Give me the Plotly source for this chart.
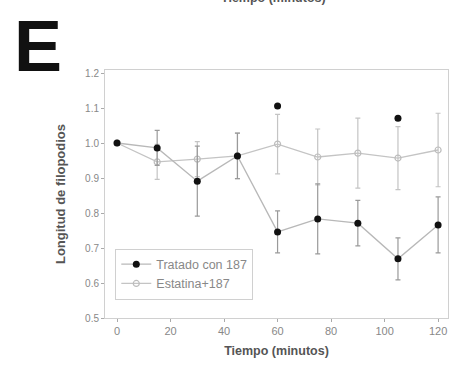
import plotly.graph_objects as go

time = [0, 15, 30, 45, 60, 75, 90, 105, 120]
tratado = [1.0, 0.986, 0.891, 0.963, 0.746, 0.783, 0.771, 0.669, 0.766]
tratado_err = [0.0, 0.05, 0.10, 0.065, 0.06, 0.10, 0.065, 0.06, 0.08]
estatina = [1.0, 0.946, 0.954, 0.963, 0.997, 0.96, 0.971, 0.957, 0.98]
estatina_err = [0.0, 0.05, 0.05, 0.065, 0.085, 0.08, 0.10, 0.09, 0.105]
sig_time = [60, 105]
sig_value = [1.106, 1.071]
x_ticks = [0, 20, 40, 60, 80, 100, 120]
y_ticks = [0.5, 0.6, 0.7, 0.8, 0.9, 1.0, 1.1, 1.2]

fig = go.Figure()
fig.add_trace(go.Scatter(
    x=time, y=estatina, name="Estatina+187", mode="lines+markers",
    line=dict(color="#c4c4c4", width=1.3),
    marker=dict(symbol="circle-open", size=6, color="#bdbdbd", line=dict(width=1.2)),
    error_y=dict(type="data", array=estatina_err, color="#c4c4c4", thickness=1.2, width=2.5),
))
fig.add_trace(go.Scatter(
    x=time, y=tratado, name="Tratado con 187", mode="lines+markers",
    line=dict(color="#b8b8b8", width=1.3),
    marker=dict(symbol="circle", size=7, color="#111111"),
    error_y=dict(type="data", array=tratado_err, color="#9a9a9a", thickness=1.2, width=2.5),
))
fig.add_trace(go.Scatter(
    x=sig_time, y=sig_value, mode="markers", showlegend=False,
    marker=dict(symbol="circle", size=7, color="#111111"),
))

fig.update_layout(
    width=450, height=373,
    margin=dict(l=105, r=2, t=70, b=55),
    paper_bgcolor="white", plot_bgcolor="white",
    font=dict(family="Liberation Sans", color="#777777", size=10),
    legend=dict(
        x=0.03, y=0.28, xanchor="left", yanchor="top",
        traceorder="reversed",
        bordercolor="#d0d0d0", borderwidth=1,
        font=dict(size=12.5, color="#888888"),
        bgcolor="white", itemwidth=30, tracegroupgap=0,
    ),
    xaxis=dict(
        range=[-4.5, 123.7], tickvals=x_ticks, ticks="outside", ticklen=3,
        tickcolor="#aaaaaa", showgrid=False, zeroline=False,
        showline=True, linecolor="#d0d0d0", mirror=True,
        tickfont=dict(size=11, color="#888888"),
        title=dict(text="<b>Tiempo (minutos)</b>", font=dict(size=12.5, color="#555555"), standoff=10),
    ),
    yaxis=dict(
        range=[0.5, 1.2086], tickvals=y_ticks, tickformat=".1f", ticks="outside", ticklen=3,
        tickcolor="#aaaaaa", showgrid=False, zeroline=False,
        showline=True, linecolor="#d0d0d0", mirror=True,
        tickfont=dict(size=10, color="#888888"),
        title=dict(text="<b>Longitud de filopodios</b>", font=dict(size=13, color="#555555"), standoff=16),
    ),
    annotations=[
        dict(text="<b>E</b>", xref="paper", yref="paper", x=-0.27, y=1.097,
             xanchor="left", yanchor="middle", showarrow=False,
             font=dict(size=72, color="#111111", family="Liberation Sans")),
        dict(text="<b>Tiempo (minutos)</b>", xref="paper", yref="paper", x=0.49, y=1.29,
             xanchor="center", yanchor="middle", showarrow=False,
             font=dict(size=12.5, color="#555555")),
    ],
)

fig.write_html("out.html")
